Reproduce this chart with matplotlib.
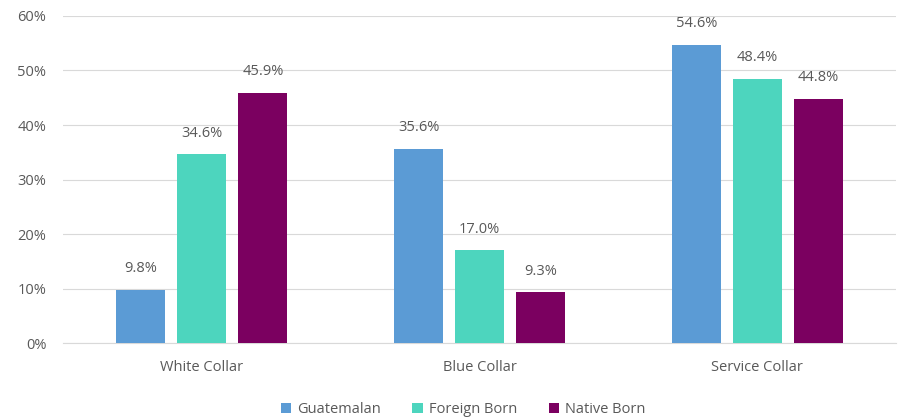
import matplotlib
matplotlib.use('Agg')
import matplotlib.pyplot as plt
import numpy as np

## chart values
categories = ['White Collar', 'Blue Collar', 'Service Collar']
series = ['Guatemalan', 'Foreign Born', 'Native Born']
guatemalan = [9.8, 35.6, 54.6]
foreign_born = [34.6, 17.0, 48.4]
native_born = [45.9, 9.3, 44.8]
yticks = [0, 10, 20, 30, 40, 50, 60]

colors = ['#5B9BD5', '#4DD5BE', '#7B0060']
textColor = '#595959'

plt.rcParams['font.family'] = ['Open Sans', 'DejaVu Sans']

fig = plt.figure(figsize=(8.99, 4.19), dpi=100)
ax = fig.add_axes([0.070, 0.181, 0.927, 0.781])

x = np.arange(len(categories))
barWidth = 0.176
step = 0.22 ## distance between bar centres within a group
for i, (name, vals) in enumerate(zip(series, [guatemalan, foreign_born, native_born])):
    pos = x + (i - 1) * step
    ax.bar(pos, vals, width=barWidth, color=colors[i], label=name, zorder=3)
    for p, v in zip(pos, vals):
        ax.annotate('{:.1f}%'.format(v), (p, v), xytext=(0, 10), textcoords='offset points',
                    ha='center', va='bottom', fontsize=10.5, color=textColor)

ax.set_xlim(-0.5, len(categories) - 0.5)
ax.set_ylim(0, 60)
ax.set_yticks(yticks)
ax.set_yticklabels(['{}%'.format(t) for t in yticks])
ax.set_xticks(x)
ax.set_xticklabels(categories)
ax.tick_params(axis='both', length=0, labelsize=10.5, labelcolor=textColor)
ax.tick_params(axis='y', pad=12)
ax.tick_params(axis='x', pad=12)
ax.grid(axis='y', color='#D9D9D9', linewidth=0.8, zorder=0)
for s in ['top', 'right', 'left']:
    ax.spines[s].set_visible(False)
ax.spines['bottom'].set_color('#D9D9D9')

leg = ax.legend(loc='upper center', bbox_to_anchor=(0.48, -0.14), ncol=3, frameon=False,
                fontsize=10.5, handlelength=0.7, handleheight=0.7, columnspacing=2.2,
                handletextpad=0.4)
for t in leg.get_texts():
    t.set_color(textColor)

fig.savefig('out.png', dpi=100)
